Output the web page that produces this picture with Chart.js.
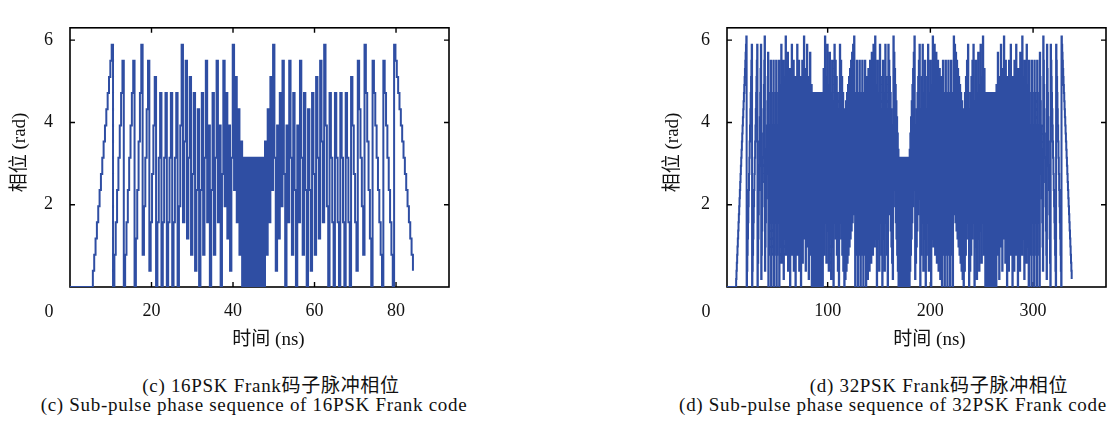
<!DOCTYPE html>
<html>
<head>
<meta charset="utf-8">
<script src="https://cdn.jsdelivr.net/npm/chart.js@4.4.1/dist/chart.umd.min.js"></script>
<style>
  html, body { margin: 0; padding: 0; background: #fff; }
  #page { position: relative; width: 1114px; height: 421px; overflow: hidden; }
  canvas { position: absolute; top: 0; }
  .cap {
    position: absolute; white-space: nowrap; transform: translate(-50%, -50%);
    font-family: 'Liberation Serif', 'Noto Sans CJK SC', serif; font-size: 19px;
    letter-spacing: 0.7px; color: #111;
  }
</style>
</head>
<body>
<div id="page">
  <canvas id="c16" width="470" height="360" style="left:0px"></canvas>
  <canvas id="c32" width="474" height="360" style="left:640px"></canvas>
  <div class="cap" style="left:271px; top:383px">(c) 16PSK Frank码子脉冲相位</div>
  <div class="cap" style="left:254px; top:405px">(c) Sub-pulse phase sequence of 16PSK Frank code</div>
  <div class="cap" style="left:939px; top:383px">(d) 32PSK Frank码子脉冲相位</div>
  <div class="cap" style="left:893px; top:405px">(d) Sub-pulse phase sequence of 32PSK Frank code</div>
</div>
<script>
// phase indices k of each sub-pulse (phase = k * 2π / N), one row per Frank group
const frank16Rows = [
  [0,0,0,0,0,0,0,0,0,0,0,0,0,0,0,0],
  [0,1,2,3,4,5,6,7,8,9,10,11,12,13,14,15],
  [0,2,4,6,8,10,12,14,0,2,4,6,8,10,12,14],
  [0,3,6,9,12,15,2,5,8,11,14,1,4,7,10,13],
  [0,4,8,12,0,4,8,12,0,4,8,12,0,4,8,12],
  [0,5,10,15,4,9,14,3,8,13,2,7,12,1,6,11],
  [0,6,12,2,8,14,4,10,0,6,12,2,8,14,4,10],
  [0,7,14,5,12,3,10,1,8,15,6,13,4,11,2,9],
  [0,8,0,8,0,8,0,8,0,8,0,8,0,8,0,8],
  [0,9,2,11,4,13,6,15,8,1,10,3,12,5,14,7],
  [0,10,4,14,8,2,12,6,0,10,4,14,8,2,12,6],
  [0,11,6,1,12,7,2,13,8,3,14,9,4,15,10,5],
  [0,12,8,4,0,12,8,4,0,12,8,4,0,12,8,4],
  [0,13,10,7,4,1,14,11,8,5,2,15,12,9,6,3],
  [0,14,12,10,8,6,4,2,0,14,12,10,8,6,4,2],
  [0,15,14,13,12,11,10,9,8,7,6,5,4,3,2,1]
];

const frank32Rows = [
  [0,0,0,0,0,0,0,0,0,0,0,0,0,0,0,0,0,0,0,0,0,0,0,0,0,0,0,0,0,0,0,0],
  [0,1,2,3,4,5,6,7,8,9,10,11,12,13,14,15,16,17,18,19,20,21,22,23,24,25,26,27,28,29,30,31],
  [0,2,4,6,8,10,12,14,16,18,20,22,24,26,28,30,0,2,4,6,8,10,12,14,16,18,20,22,24,26,28,30],
  [0,3,6,9,12,15,18,21,24,27,30,1,4,7,10,13,16,19,22,25,28,31,2,5,8,11,14,17,20,23,26,29],
  [0,4,8,12,16,20,24,28,0,4,8,12,16,20,24,28,0,4,8,12,16,20,24,28,0,4,8,12,16,20,24,28],
  [0,5,10,15,20,25,30,3,8,13,18,23,28,1,6,11,16,21,26,31,4,9,14,19,24,29,2,7,12,17,22,27],
  [0,6,12,18,24,30,4,10,16,22,28,2,8,14,20,26,0,6,12,18,24,30,4,10,16,22,28,2,8,14,20,26],
  [0,7,14,21,28,3,10,17,24,31,6,13,20,27,2,9,16,23,30,5,12,19,26,1,8,15,22,29,4,11,18,25],
  [0,8,16,24,0,8,16,24,0,8,16,24,0,8,16,24,0,8,16,24,0,8,16,24,0,8,16,24,0,8,16,24],
  [0,9,18,27,4,13,22,31,8,17,26,3,12,21,30,7,16,25,2,11,20,29,6,15,24,1,10,19,28,5,14,23],
  [0,10,20,30,8,18,28,6,16,26,4,14,24,2,12,22,0,10,20,30,8,18,28,6,16,26,4,14,24,2,12,22],
  [0,11,22,1,12,23,2,13,24,3,14,25,4,15,26,5,16,27,6,17,28,7,18,29,8,19,30,9,20,31,10,21],
  [0,12,24,4,16,28,8,20,0,12,24,4,16,28,8,20,0,12,24,4,16,28,8,20,0,12,24,4,16,28,8,20],
  [0,13,26,7,20,1,14,27,8,21,2,15,28,9,22,3,16,29,10,23,4,17,30,11,24,5,18,31,12,25,6,19],
  [0,14,28,10,24,6,20,2,16,30,12,26,8,22,4,18,0,14,28,10,24,6,20,2,16,30,12,26,8,22,4,18],
  [0,15,30,13,28,11,26,9,24,7,22,5,20,3,18,1,16,31,14,29,12,27,10,25,8,23,6,21,4,19,2,17],
  [0,16,0,16,0,16,0,16,0,16,0,16,0,16,0,16,0,16,0,16,0,16,0,16,0,16,0,16,0,16,0,16],
  [0,17,2,19,4,21,6,23,8,25,10,27,12,29,14,31,16,1,18,3,20,5,22,7,24,9,26,11,28,13,30,15],
  [0,18,4,22,8,26,12,30,16,2,20,6,24,10,28,14,0,18,4,22,8,26,12,30,16,2,20,6,24,10,28,14],
  [0,19,6,25,12,31,18,5,24,11,30,17,4,23,10,29,16,3,22,9,28,15,2,21,8,27,14,1,20,7,26,13],
  [0,20,8,28,16,4,24,12,0,20,8,28,16,4,24,12,0,20,8,28,16,4,24,12,0,20,8,28,16,4,24,12],
  [0,21,10,31,20,9,30,19,8,29,18,7,28,17,6,27,16,5,26,15,4,25,14,3,24,13,2,23,12,1,22,11],
  [0,22,12,2,24,14,4,26,16,6,28,18,8,30,20,10,0,22,12,2,24,14,4,26,16,6,28,18,8,30,20,10],
  [0,23,14,5,28,19,10,1,24,15,6,29,20,11,2,25,16,7,30,21,12,3,26,17,8,31,22,13,4,27,18,9],
  [0,24,16,8,0,24,16,8,0,24,16,8,0,24,16,8,0,24,16,8,0,24,16,8,0,24,16,8,0,24,16,8],
  [0,25,18,11,4,29,22,15,8,1,26,19,12,5,30,23,16,9,2,27,20,13,6,31,24,17,10,3,28,21,14,7],
  [0,26,20,14,8,2,28,22,16,10,4,30,24,18,12,6,0,26,20,14,8,2,28,22,16,10,4,30,24,18,12,6],
  [0,27,22,17,12,7,2,29,24,19,14,9,4,31,26,21,16,11,6,1,28,23,18,13,8,3,30,25,20,15,10,5],
  [0,28,24,20,16,12,8,4,0,28,24,20,16,12,8,4,0,28,24,20,16,12,8,4,0,28,24,20,16,12,8,4],
  [0,29,26,23,20,17,14,11,8,5,2,31,28,25,22,19,16,13,10,7,4,1,30,27,24,21,18,15,12,9,6,3],
  [0,30,28,26,24,22,20,18,16,14,12,10,8,6,4,2,0,30,28,26,24,22,20,18,16,14,12,10,8,6,4,2],
  [0,31,30,29,28,27,26,25,24,23,22,21,20,19,18,17,16,15,14,13,12,11,10,9,8,7,6,5,4,3,2,1]
];

const chipWidth = 0.33;          // ns per sub-pulse
const yTickValues = [2, 4, 6];
const xTickValues16 = [20, 40, 60, 80];
const xTickValues32 = [100, 200, 300];

const lineColor = '#2f4ea3';
const tickFont = "18px 'Liberation Serif', 'Noto Sans CJK SC', serif";
const titleFont = "19px 'Liberation Serif', 'Noto Sans CJK SC', serif";

function toPoints(rows, n) {
  return rows.flat().map((k, i) => ({ x: i * chipWidth, y: k * 2 * Math.PI / n }));
}

// box, inward ticks on all four sides, origin "0" and axis titles
const framePlugin = {
  id: 'frame',
  beforeDatasetsDraw(chart) {
    const { ctx, chartArea: a, scales } = chart;
    ctx.save();
    ctx.strokeStyle = '#000';
    ctx.lineWidth = 1.6;
    ctx.strokeRect(a.left, a.top, a.right - a.left, a.bottom - a.top);
    ctx.lineWidth = 1.4;
    ctx.beginPath();
    for (const t of scales.x.ticks) {
      const px = scales.x.getPixelForValue(t.value);
      ctx.moveTo(px, a.bottom); ctx.lineTo(px, a.bottom - 5);
      ctx.moveTo(px, a.top); ctx.lineTo(px, a.top + 5);
    }
    for (const t of scales.y.ticks) {
      const py = scales.y.getPixelForValue(t.value);
      ctx.moveTo(a.left, py); ctx.lineTo(a.left + 5, py);
      ctx.moveTo(a.right, py); ctx.lineTo(a.right - 5, py);
    }
    ctx.stroke();
    ctx.restore();
  },
  afterDraw(chart) {
    const { ctx, chartArea: a } = chart;
    const o = chart.options.plugins.frame;
    ctx.save();
    ctx.fillStyle = '#111';
    ctx.font = tickFont;
    ctx.textAlign = 'center';
    ctx.textBaseline = 'middle';
    ctx.fillText('0', a.left - 21, a.bottom + 25);
    ctx.font = titleFont;
    ctx.fillText('时间 (ns)', a.left + (a.right - a.left) / 2 + o.titleShift, a.bottom + 53);
    ctx.translate(o.yTitleX, a.top + (a.bottom - a.top) / 2 - 5);
    ctx.rotate(-Math.PI / 2);
    ctx.fillText('相位 (rad)', 0, 0);
    ctx.restore();
  }
};

function makeChart(canvasId, rows, n, xMin, xMax, xTicks, area) {
  new Chart(document.getElementById(canvasId), {
    type: 'line',
    data: {
      datasets: [{
        data: toPoints(rows, n),
        borderColor: lineColor,
        borderWidth: 2,
        pointRadius: 0,
        stepped: true,
        fill: false
      }]
    },
    options: {
      responsive: false,
      animation: false,
      events: [],
      layout: { padding: { left: 0, top: area.top, right: area.right, bottom: 0 } },
      plugins: {
        legend: { display: false },
        tooltip: { enabled: false },
        frame: { titleShift: area.titleShift, yTitleX: area.yTitleX }
      },
      scales: {
        x: {
          type: 'linear',
          min: xMin,
          max: xMax,
          grid: { display: false, drawTicks: false },
          border: { display: false },
          afterBuildTicks: s => { s.ticks = xTicks.map(v => ({ value: v })); },
          afterFit: s => { s.height = 360 - area.bottom; },
          ticks: { color: '#111', font: { family: "'Liberation Serif', serif", size: 18 }, padding: 13, maxRotation: 0 }
        },
        y: {
          min: 0,
          max: 6.3,
          grid: { display: false, drawTicks: false },
          border: { display: false },
          afterBuildTicks: s => { s.ticks = yTickValues.map(v => ({ value: v })); },
          afterFit: s => { s.width = area.left; },
          ticks: { color: '#111', font: { family: "'Liberation Serif', serif", size: 18 }, padding: 17 }
        }
      }
    },
    plugins: [framePlugin]
  });
}

makeChart('c16', frank16Rows, 16, 0, 93, xTickValues16,
  { left: 70, top: 6, right: 21, bottom: 287, titleShift: 9, yTitleX: 20 });
makeChart('c32', frank32Rows, 32, 2, 371, xTickValues32,
  { left: 87, top: 7, right: 8, bottom: 287, titleShift: 13, yTitleX: 33 });
</script>
</body>
</html>
